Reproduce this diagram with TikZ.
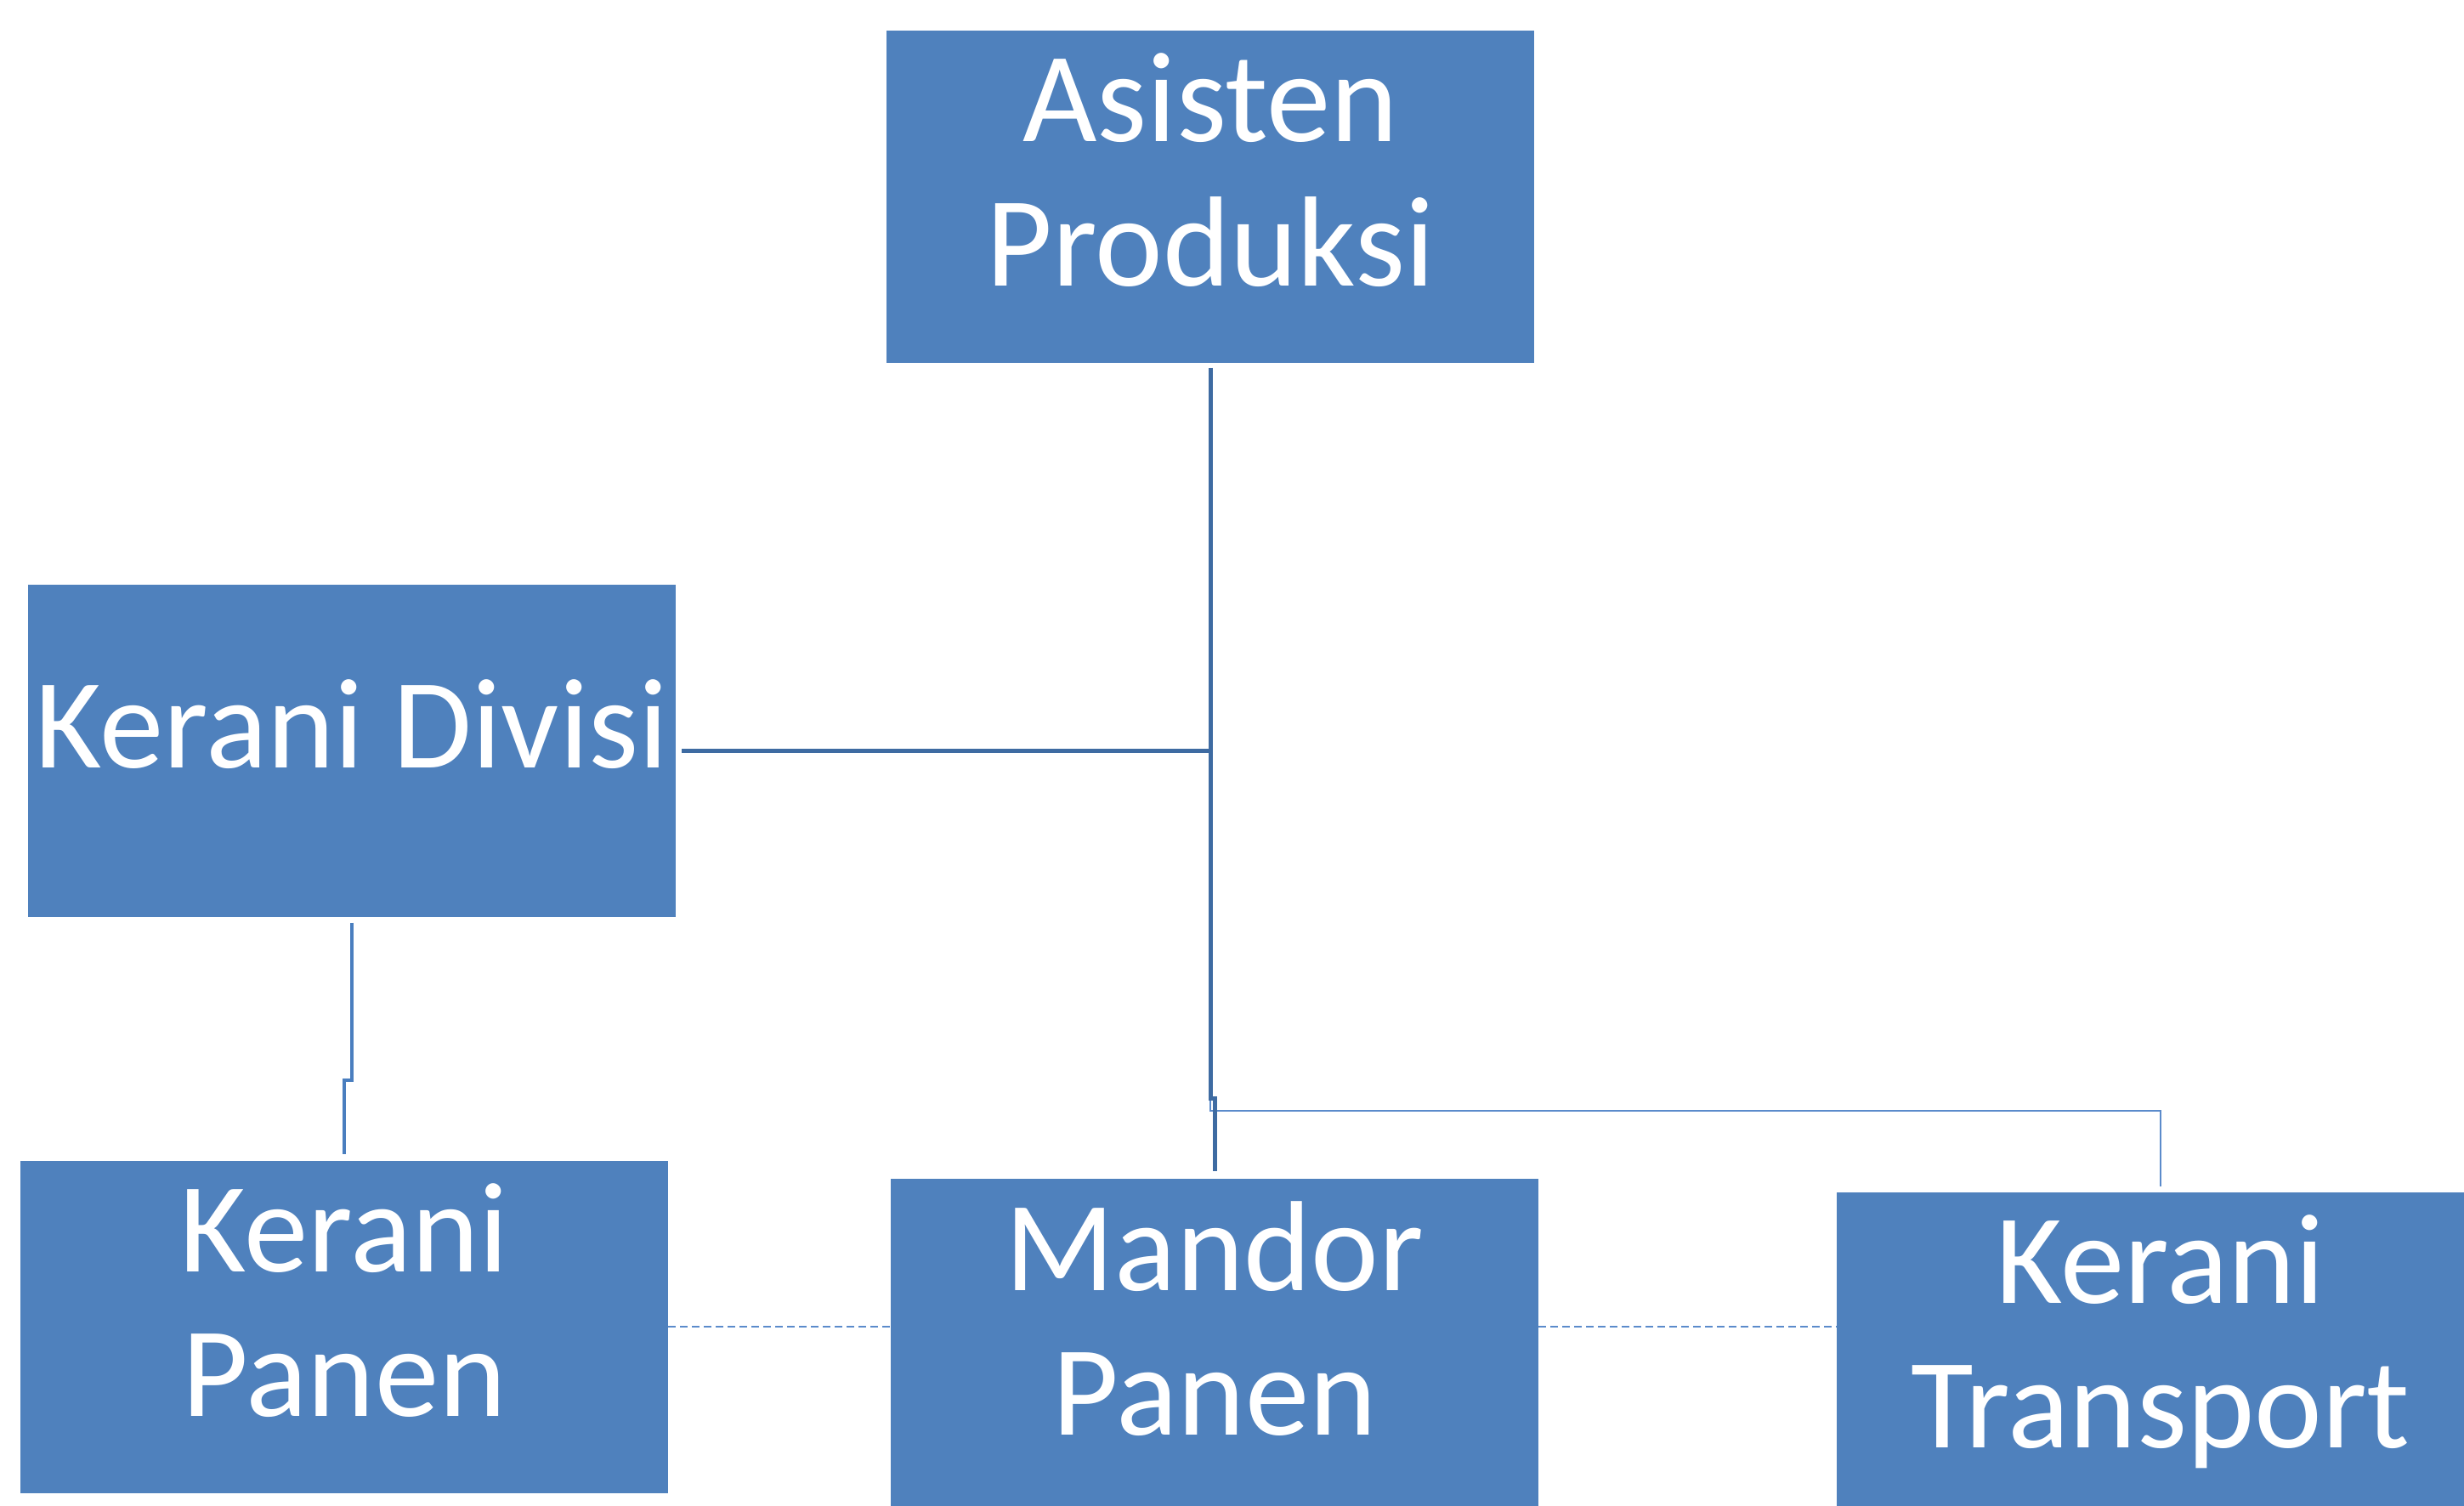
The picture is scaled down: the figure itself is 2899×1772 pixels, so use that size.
\documentclass[tikz,border=0pt]{standalone}
\usepackage{fontspec}
\setmainfont{Carlito}
\definecolor{boxblue}{HTML}{4F81BD}
\definecolor{linkdark}{HTML}{3E6BA2}
\definecolor{linkmid}{HTML}{4A7EBF}
\definecolor{linklight}{HTML}{5B8BCB}
\begin{document}
\begin{tikzpicture}[
                x = 1pt, y = -1pt, % one unit per pixel, y going down
                box/.style = {fill = boxblue, text = white, align = center,
                    inner sep = 0pt, minimum width = 762pt, minimum height = 391pt,
                    text depth = 62pt, % lifts the text a little
                    font = \fontsize{151}{170}\selectfont},
                mainlink/.style = {draw = linkdark, line width = 5pt},
                sidelink/.style = {draw = linkmid, line width = 4.5pt},
                thinlink/.style = {draw = linklight, line width = 2pt},
                peerlink/.style = {draw = linklight, line width = 2.3pt,
                    dash pattern = on 9pt off 5pt}
            ]

            \useasboundingbox (0,0) rectangle (2899,1772);

            \node[box] (ap) at (1424,231) {Asisten\\Produksi};
            \node[box] (kd) at (414,883) {Kerani Divisi};
            \node[box] (kp) at (405,1561) {Kerani\\Panen};
            \node[box] (mp) at (1429,1582) {Mandor\\Panen};
            \node[box] (kt) at (2542,1598) {Kerani\\Transport};

            % elbows from the top box
            \draw[thinlink, shorten < = 6pt, shorten > = 6pt] (ap.south) |- (1424,1307)
                -| (kt.north);
            \draw[mainlink, shorten < = 6pt, shorten > = 8pt] (ap.south) -- (1424,1292)
                -| (mp.north);
            \draw[mainlink, shorten < = 7pt] (kd.east) -- (kd.east -| ap.south);

            \draw[sidelink, shorten < = 7pt, shorten > = 7pt] (kd.south) -- (414,1271)
                -| (kp.north);

            \draw[peerlink] (kp.east) -- (kp.east -| mp.west);
            \draw[peerlink] (mp.east |- kp.east) -- (kt.west |- kp.east);

        \end{tikzpicture}
\end{document}
